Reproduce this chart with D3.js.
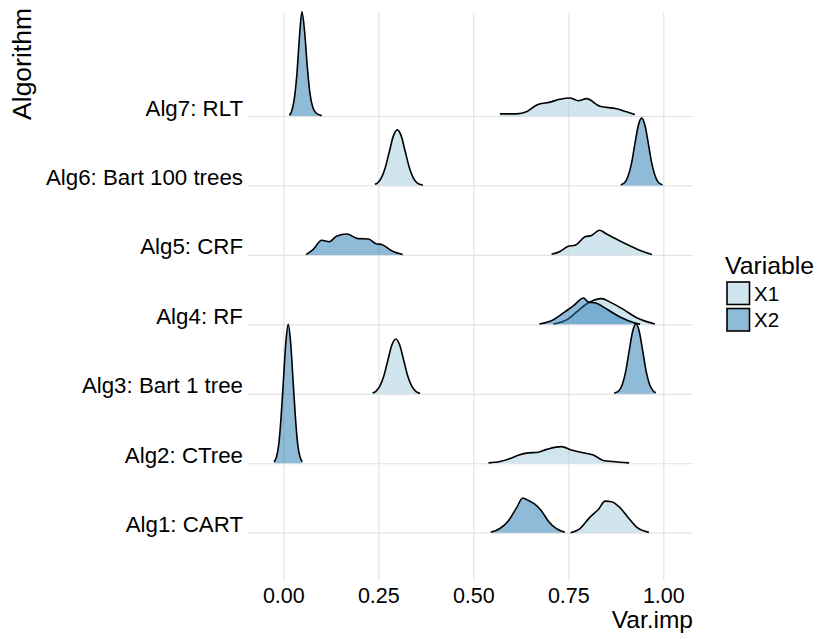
<!DOCTYPE html>
<html>
<head>
<meta charset="utf-8">
<script src="https://cdn.jsdelivr.net/npm/d3@7"></script>
<style>
	body { margin: 0; background: #fff; }
	text { font-family: "Liberation Sans", Arial, Helvetica, sans-serif; fill: #000; }
</style>
</head>
<body>
<div class="chart"></div>
<script>
// categories, bottom to top
const algorithms = ["Alg1: CART", "Alg2: CTree", "Alg3: Bart 1 tree", "Alg4: RF", "Alg5: CRF", "Alg6: Bart 100 trees", "Alg7: RLT"];
const variables = ["X1", "X2"];
const xTicks = [0, 0.25, 0.5, 0.75, 1];

// ridge profiles: [Var.imp, height in row units]
const alg1X1 = [[0.756, 0], [0.781, 0.06], [0.807, 0.225], [0.829, 0.335], [0.847, 0.455], [0.864, 0.445], [0.886, 0.36], [0.908, 0.215], [0.93, 0.08], [0.962, 0.005]];
const alg1X2 = [[0.546, 0.005], [0.57, 0.06], [0.592, 0.17], [0.614, 0.36], [0.63, 0.5], [0.645, 0.465], [0.662, 0.41], [0.68, 0.31], [0.697, 0.17], [0.719, 0.058], [0.741, 0.005]];
const alg2X1 = [[0.54, 0.005], [0.57, 0.025], [0.597, 0.067], [0.618, 0.115], [0.645, 0.15], [0.667, 0.155], [0.693, 0.2], [0.732, 0.24], [0.758, 0.19], [0.789, 0.15], [0.816, 0.12], [0.842, 0.04], [0.868, 0.025], [0.886, 0.015], [0.91, 0.005]];
const alg2X2 = [[-0.0245, 0.02], [-0.018, 0.09], [-0.012, 0.27], [-0.006, 0.65], [0.0005, 1.21], [0.007, 1.76], [0.013, 2.0], [0.019, 1.76], [0.0255, 1.21], [0.032, 0.65], [0.038, 0.27], [0.044, 0.09], [0.05, 0.02]];
const alg3X1 = [[0.235, 0.01], [0.2435, 0.035], [0.254, 0.11], [0.2645, 0.255], [0.275, 0.48], [0.2855, 0.7], [0.296, 0.79], [0.3065, 0.7], [0.317, 0.48], [0.3275, 0.255], [0.338, 0.11], [0.3485, 0.035], [0.36, 0.005]];
const alg3X2 = [[0.871, 0.01], [0.883, 0.045], [0.892, 0.135], [0.901, 0.32], [0.91, 0.61], [0.919, 0.89], [0.928, 1.01], [0.937, 0.89], [0.946, 0.61], [0.955, 0.32], [0.964, 0.135], [0.973, 0.045], [0.98, 0.015]];
const alg4X1 = [[0.711, 0.005], [0.75, 0.08], [0.772, 0.18], [0.803, 0.31], [0.838, 0.37], [0.86, 0.32], [0.895, 0.215], [0.93, 0.095], [0.978, 0.005]];
const alg4X2 = [[0.674, 0.005], [0.711, 0.067], [0.741, 0.18], [0.763, 0.265], [0.79, 0.38], [0.803, 0.32], [0.82, 0.31], [0.851, 0.22], [0.886, 0.105], [0.925, 0.02], [0.939, 0.003]];
const alg5X1 = [[0.706, 0.01], [0.728, 0.05], [0.75, 0.125], [0.768, 0.14], [0.794, 0.26], [0.811, 0.28], [0.832, 0.355], [0.851, 0.3], [0.886, 0.2], [0.93, 0.086], [0.97, 0.005]];
const alg5X2 = [[0.06, 0.005], [0.079, 0.08], [0.101, 0.21], [0.121, 0.19], [0.14, 0.27], [0.167, 0.3], [0.197, 0.235], [0.224, 0.23], [0.244, 0.16], [0.259, 0.15], [0.285, 0.06], [0.314, 0.005]];
const alg6X1 = [[0.241, 0.016], [0.2475, 0.035], [0.258, 0.11], [0.2685, 0.26], [0.279, 0.485], [0.2895, 0.71], [0.3, 0.8], [0.3105, 0.71], [0.321, 0.485], [0.3315, 0.26], [0.342, 0.11], [0.3525, 0.035], [0.367, 0.005]];
const alg6X2 = [[0.888, 0.01], [0.898, 0.04], [0.907, 0.13], [0.916, 0.31], [0.925, 0.59], [0.934, 0.86], [0.943, 0.97], [0.952, 0.86], [0.961, 0.59], [0.97, 0.31], [0.979, 0.13], [0.988, 0.04], [0.998, 0.01]];
const alg7X1 = [[0.57, 0.03], [0.614, 0.03], [0.64, 0.06], [0.667, 0.16], [0.702, 0.2], [0.728, 0.24], [0.754, 0.26], [0.776, 0.22], [0.798, 0.25], [0.833, 0.14], [0.877, 0.105], [0.903, 0.06], [0.925, 0.02]];
const alg7X2 = [[0.016, 0.01], [0.022, 0.07], [0.029, 0.25], [0.036, 0.62], [0.042, 1.1], [0.049, 1.5], [0.056, 1.22], [0.063, 0.72], [0.07, 0.33], [0.078, 0.12], [0.087, 0.04], [0.101, 0.005]];

// drawn from the top row down, so lower rows sit on top
const ridges = [
	{ alg: algorithms[6], variable: "X1", points: alg7X1 },
	{ alg: algorithms[6], variable: "X2", points: alg7X2 },
	{ alg: algorithms[5], variable: "X1", points: alg6X1 },
	{ alg: algorithms[5], variable: "X2", points: alg6X2 },
	{ alg: algorithms[4], variable: "X1", points: alg5X1 },
	{ alg: algorithms[4], variable: "X2", points: alg5X2 },
	{ alg: algorithms[3], variable: "X1", points: alg4X1 },
	{ alg: algorithms[3], variable: "X2", points: alg4X2 },
	{ alg: algorithms[2], variable: "X1", points: alg3X1 },
	{ alg: algorithms[2], variable: "X2", points: alg3X2 },
	{ alg: algorithms[1], variable: "X1", points: alg2X1 },
	{ alg: algorithms[1], variable: "X2", points: alg2X2 },
	{ alg: algorithms[0], variable: "X1", points: alg1X1 },
	{ alg: algorithms[0], variable: "X2", points: alg1X2 }
];

var w = 820,
	h = 639,
	panelLeft = 248,
	panelRight = 693,
	panelTop = 13,
	panelBottom = 580;

const fillScale = d3.scaleOrdinal().domain(variables).range(["#a3cbdf", "#1f77b3"]);
const fillOpacity = 0.5;

const svg = d3.select(".chart").append("svg").attr("width", w).attr("height", h);
svg.append("rect").attr("width", w).attr("height", h).attr("fill", "#fff");

const xScale = d3.scaleLinear().domain([0, 1]).range([283.3, 663.3]);
const yScale = d3.scalePoint().domain(algorithms).range([532.7, 116]);
const hScale = d3.scaleLinear().domain([0, 1]).range([0, yScale.step()]);

// x axis + vertical grid
const xAxis = d3.axisBottom(xScale)
	.tickValues(xTicks)
	.tickFormat(d3.format(".2f"))
	.tickSize(-(panelBottom - panelTop))
	.tickPadding(0);

const gx = svg.append("g")
	.attr("id", "x-axis")
	.attr("transform", "translate(0," + panelBottom + ")")
	.call(xAxis);
gx.select(".domain").remove();
gx.selectAll(".tick line").attr("stroke", "#e3e3e3").attr("stroke-width", 1.2);
gx.selectAll(".tick text")
	.attr("y", 23.3)
	.attr("dy", null)
	.attr("font-size", 21.5)
	.style("font-family", '"Liberation Sans", Arial, sans-serif');

// y axis + horizontal grid
const yAxis = d3.axisLeft(yScale)
	.tickSize(-(panelRight - panelLeft))
	.tickPadding(5);

const gy = svg.append("g")
	.attr("id", "y-axis")
	.attr("transform", "translate(" + panelLeft + ",0)")
	.call(yAxis);
gy.select(".domain").remove();
gy.selectAll(".tick line").attr("stroke", "#e3e3e3").attr("stroke-width", 1.2);
gy.selectAll(".tick text")
	.attr("dy", null)
	.attr("y", -1)
	.attr("font-size", 22.3)
	.style("font-family", '"Liberation Sans", Arial, sans-serif');

// ridges
const area = d3.area()
	.x((d) => xScale(d[0]))
	.y0(0)
	.y1((d) => -hScale(d[1]))
	.curve(d3.curveMonotoneX);

const line = d3.line()
	.x((d) => xScale(d[0]))
	.y((d) => -hScale(d[1]))
	.curve(d3.curveMonotoneX);

const ridge = svg.append("g")
	.selectAll("g")
	.data(ridges)
	.enter()
	.append("g")
	.attr("class", "ridge")
	.attr("transform", (d) => "translate(0," + yScale(d.alg) + ")");

ridge.append("path")
	.attr("d", (d) => area(d.points))
	.attr("fill", (d) => fillScale(d.variable))
	.attr("fill-opacity", fillOpacity);

ridge.append("path")
	.attr("d", (d) => line(d.points))
	.attr("fill", "none")
	.attr("stroke", "#000")
	.attr("stroke-width", 1.6)
	.attr("stroke-linejoin", "round");

// axis titles
svg.append("text")
	.attr("x", panelRight)
	.attr("y", 628)
	.attr("text-anchor", "end")
	.attr("font-size", 24.5)
	.text("Var.imp");

svg.append("text")
	.attr("transform", "translate(31,8) rotate(-90)")
	.attr("text-anchor", "end")
	.attr("font-size", 26.5)
	.text("Algorithm");

// legend
const legend = svg.append("g").attr("transform", "translate(725,0)");
legend.append("text")
	.attr("x", 0)
	.attr("y", 273.5)
	.attr("font-size", 24.8)
	.text("Variable");

const key = legend.selectAll(".key")
	.data(variables)
	.enter()
	.append("g")
	.attr("class", "key")
	.attr("transform", (d, i) => "translate(2," + (282 + i * 26.5) + ")");

key.append("rect")
	.attr("width", 22.5)
	.attr("height", 22.5)
	.attr("fill", "#fff");
key.append("rect")
	.attr("width", 22.5)
	.attr("height", 22.5)
	.attr("fill", (d) => fillScale(d))
	.attr("fill-opacity", fillOpacity)
	.attr("stroke", "#000")
	.attr("stroke-width", 1.6);
key.append("text")
	.attr("x", 27)
	.attr("y", 18.5)
	.attr("font-size", 20.5)
	.text((d) => d);
</script>
</body>
</html>
